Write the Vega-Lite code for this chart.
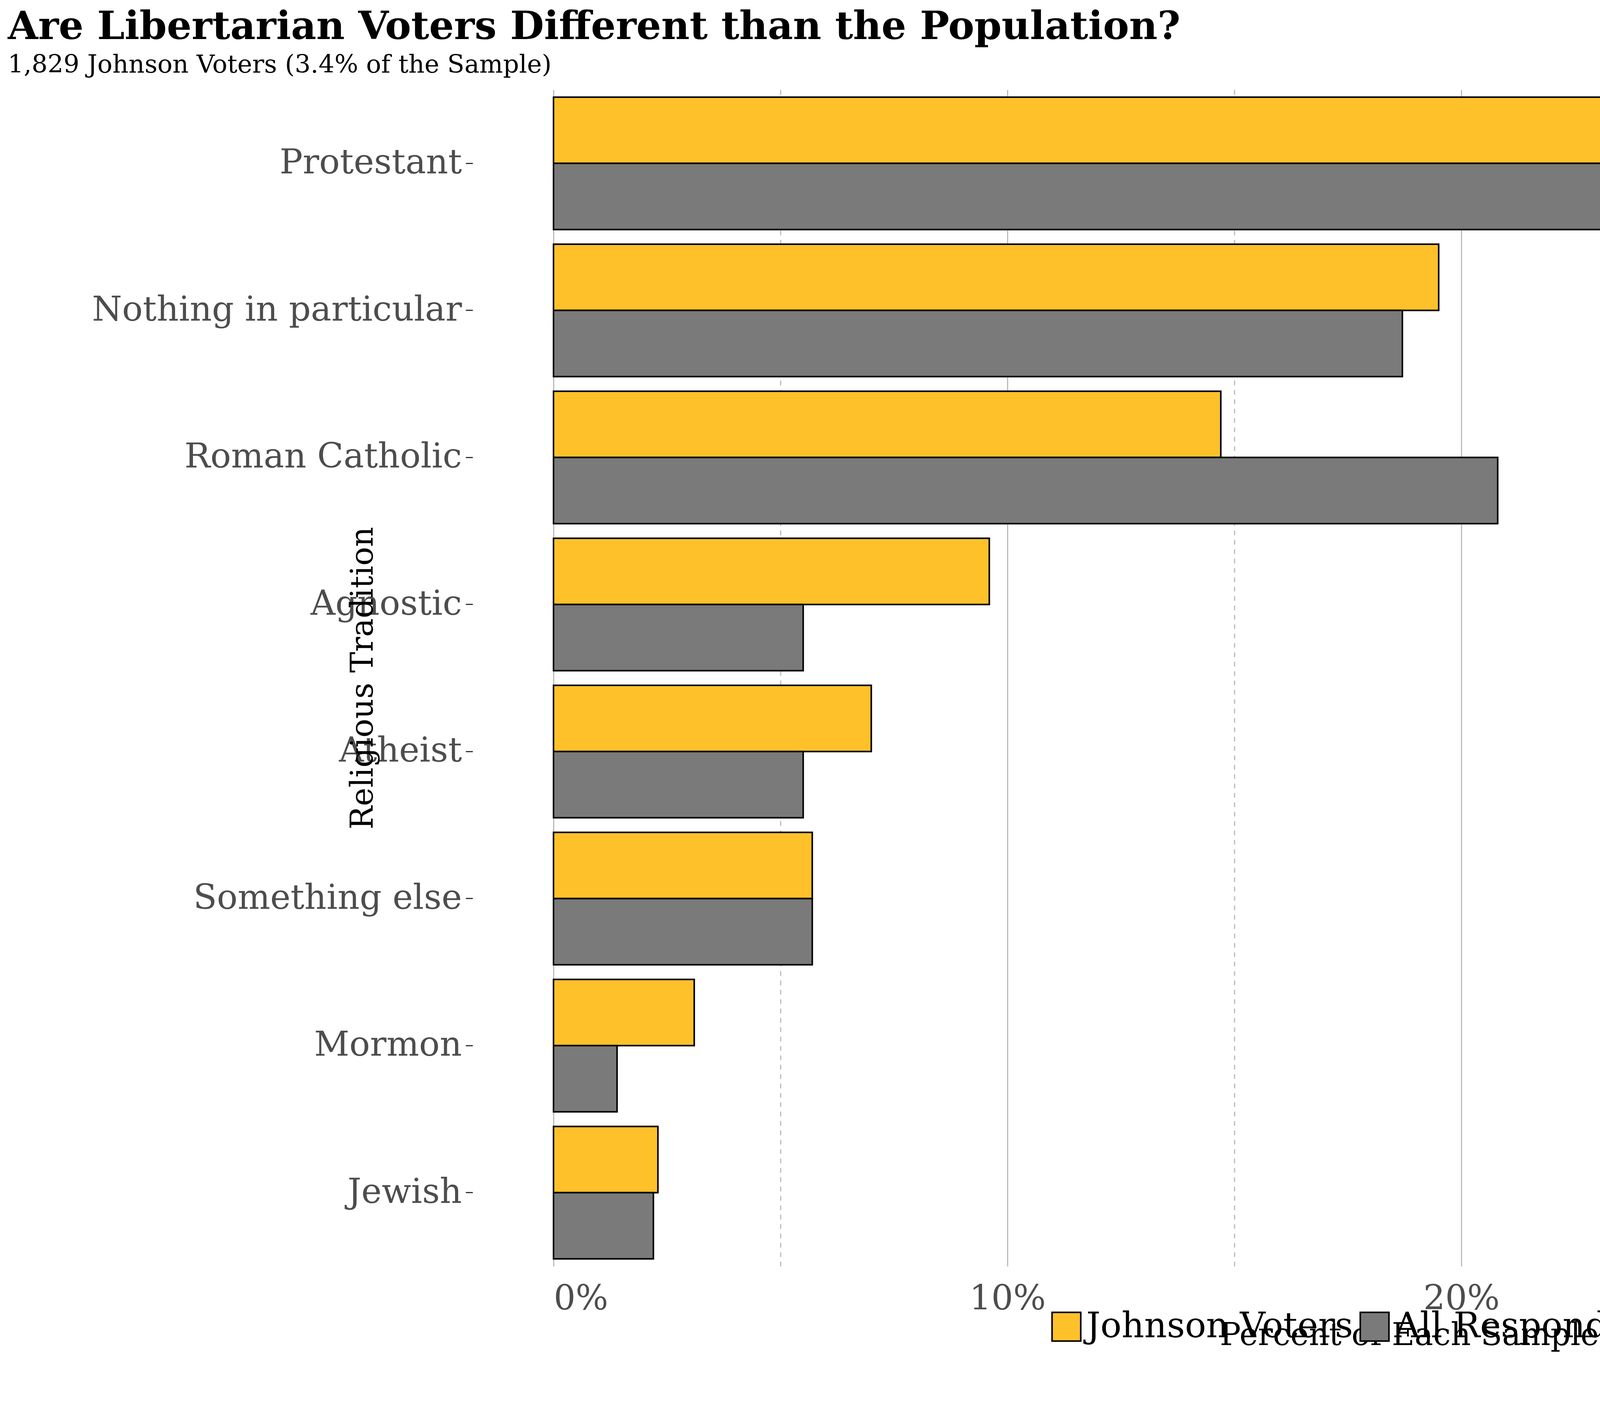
{
  "$schema": "https://vega.github.io/schema/vega-lite/v6.json",
  "autosize": {"type": "fit", "contains": "padding"},
  "width": 6000,
  "height": 3600,
  "padding": {"left": 20, "top": 20, "right": 10, "bottom": 10},
  "background": "white",
  "config": {
    "view": {"stroke": null},
    "font": "DejaVu Serif"
  },
  "title": {
    "text": "Are Libertarian Voters Different than the Population?",
    "subtitle": "1,829 Johnson Voters (3.4% of the Sample)",
    "anchor": "start",
    "dx": -215,
    "limit": 0,
    "font": "DejaVu Serif",
    "fontSize": 100,
    "fontWeight": "bold",
    "color": "black",
    "subtitleFont": "DejaVu Serif",
    "subtitleFontSize": 64,
    "subtitleColor": "black",
    "subtitlePadding": 14,
    "offset": 30
  },
  "data": {
    "values": [
      {"religion": "Protestant", "group": "Johnson Voters", "pct": 36.7},
      {"religion": "Protestant", "group": "All Respondents", "pct": 37.6},
      {"religion": "Nothing in particular", "group": "Johnson Voters", "pct": 19.5},
      {"religion": "Nothing in particular", "group": "All Respondents", "pct": 18.7},
      {"religion": "Roman Catholic", "group": "Johnson Voters", "pct": 14.7},
      {"religion": "Roman Catholic", "group": "All Respondents", "pct": 20.8},
      {"religion": "Agnostic", "group": "Johnson Voters", "pct": 9.6},
      {"religion": "Agnostic", "group": "All Respondents", "pct": 5.5},
      {"religion": "Atheist", "group": "Johnson Voters", "pct": 7.0},
      {"religion": "Atheist", "group": "All Respondents", "pct": 5.5},
      {"religion": "Something else", "group": "Johnson Voters", "pct": 5.7},
      {"religion": "Something else", "group": "All Respondents", "pct": 5.7},
      {"religion": "Mormon", "group": "Johnson Voters", "pct": 3.1},
      {"religion": "Mormon", "group": "All Respondents", "pct": 1.4},
      {"religion": "Jewish", "group": "Johnson Voters", "pct": 2.3},
      {"religion": "Jewish", "group": "All Respondents", "pct": 2.2}
    ]
  },
  "layer": [
    {
      "mark": {"type": "bar", "stroke": "black", "strokeWidth": 4},
      "encoding": {
        "y": {
          "field": "religion",
          "type": "nominal",
          "sort": ["Protestant", "Nothing in particular", "Roman Catholic", "Agnostic", "Atheist", "Something else", "Mormon", "Jewish"],
          "scale": {"paddingInner": 0.1, "paddingOuter": 0.05},
          "title": "Religious Tradition",
          "axis": {
            "offset": 207,
            "domain": false,
            "tickSize": 18,
            "tickColor": "#333333",
            "tickWidth": 3,
            "labelPadding": 10,
            "labelLimit": 0,
            "labelFontSize": 88,
            "labelColor": "#4d4d4d",
            "labelFont": "DejaVu Serif",
            "titleFontSize": 80,
            "titleFontWeight": "normal",
            "titleColor": "black",
            "titleFont": "DejaVu Serif",
            "titlePadding": 40
          }
        },
        "yOffset": {
          "field": "group",
          "type": "nominal",
          "sort": ["Johnson Voters", "All Respondents"]
        },
        "x": {
          "field": "pct",
          "type": "quantitative",
          "scale": {"domain": [0, 37.7], "nice": false},
          "title": "Percent of Each Sample",
          "axis": {
            "values": [0, 5, 10, 15, 20, 25, 30, 35],
            "labelExpr": "datum.value % 10 == 0 ? datum.value + '%' : ''",
            "domain": false,
            "ticks": false,
            "labelLimit": 0,
            "labelPadding": 40,
            "labelFontSize": 88,
            "labelColor": "#4d4d4d",
            "labelFont": "DejaVu Serif",
            "titleFontSize": 80,
            "titleFontWeight": "normal",
            "titleColor": "black",
            "titleFont": "DejaVu Serif",
            "titlePadding": 10,
            "titleLimit": 0,
            "grid": true,
            "gridColor": "#bbbbbb",
            "gridDash": {"condition": {"test": "datum.value % 10 != 0", "value": [12, 12]}, "value": []},
            "gridWidth": 3
          }
        },
        "color": {
          "field": "group",
          "type": "nominal",
          "title": null,
          "scale": {"domain": ["Johnson Voters", "All Respondents"], "range": ["#FFC12A", "#7A7A7A"]},
          "legend": {
            "orient": "none",
            "legendX": 1268,
            "legendY": 3122,
            "direction": "horizontal",
            "symbolType": "square",
            "symbolSize": 5400,
            "symbolStrokeColor": "black",
            "symbolStrokeWidth": 4,
            "labelLimit": 0,
            "labelFontSize": 90,
            "labelFont": "DejaVu Serif",
            "labelColor": "black",
            "labelOffset": 6,
            "columnPadding": 10
          }
        }
      }
    },
    {
      "data": {"values": [{"caption": "Data: CCES 2016"}]},
      "mark": {"type": "text", "align": "right", "baseline": "alphabetic", "dx": 192, "dy": 560, "fontSize": 64, "font": "DejaVu Serif", "color": "black"},
      "encoding": {
        "text": {"field": "caption"},
        "x": {"datum": 37.7},
        "y": {"datum": "Jewish"}
      }
    }
  ]
}
